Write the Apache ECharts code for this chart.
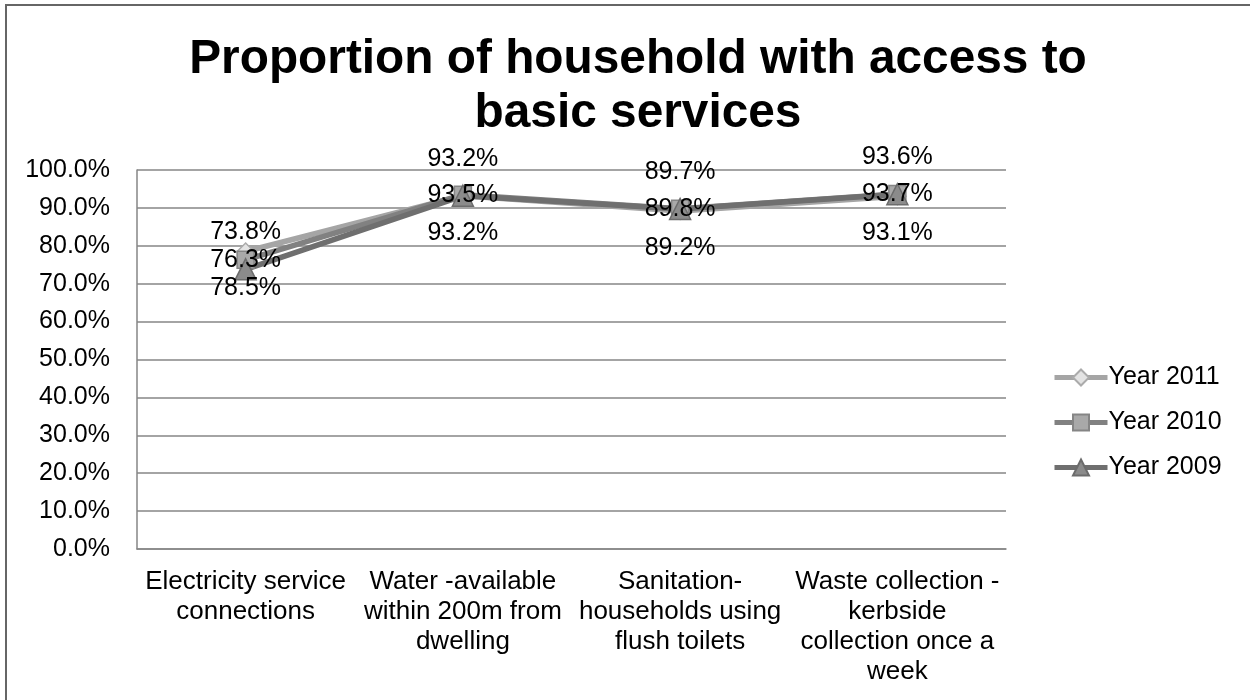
<!DOCTYPE html>
<html>
<head>
<meta charset="utf-8">
<script src="https://cdn.jsdelivr.net/npm/echarts@6/dist/echarts.min.js"></script>
<style>
  html, body { margin: 0; padding: 0; background: #fff; }
  #chart { width: 1250px; height: 700px; }
</style>
</head>
<body>
<div id="chart"></div>
<script>
// Household access to basic services, percent of households
const categories = [
  'Electricity service\nconnections',
  'Water -available\nwithin 200m from\ndwelling',
  'Sanitation-\nhouseholds using\nflush toilets',
  'Waste collection -\nkerbside\ncollection once a\nweek'
];
const year2011 = [78.5, 93.2, 89.2, 93.1];
const year2010 = [76.3, 93.5, 89.8, 93.7];
const year2009 = [73.8, 93.2, 89.7, 93.6];
const seriesNames = ['Year 2011', 'Year 2010', 'Year 2009'];

const FONT = 'Liberation Sans, Arial, sans-serif';
const pct = v => Number(v).toFixed(1) + '%';

function lineSeries(name, data, line, fill, border, symbol, size, labelOffset) {
  return {
    name: name,
    type: 'line',
    data: data,
    symbol: symbol,
    symbolSize: size,
    lineStyle: { color: line, width: 5.5 },
    itemStyle: { color: fill, borderColor: border, borderWidth: 1.5 },
    label: {
      show: true,
      position: 'inside',
      offset: [0, labelOffset],
      formatter: p => pct(p.value),
      color: '#000',
      fontFamily: FONT,
      fontSize: 25
    },
    emphasis: { disabled: true },
    animation: false
  };
}

const chart = echarts.init(document.getElementById('chart'), null, { renderer: 'canvas' });
chart.setOption({
  backgroundColor: '#fff',
  title: {
    text: 'Proportion of household with access to\nbasic services',
    left: 633,
    textAlign: 'center',
    top: 28,
    textStyle: { fontFamily: FONT, fontSize: 47.8, fontWeight: 'bold', color: '#000', lineHeight: 54 }
  },
  legend: {
    orient: 'vertical',
    left: 1047,
    top: 360,
    itemWidth: 53,
    itemHeight: 20,
    itemGap: 20,
    lineStyle: { width: 5 },
    textStyle: { fontFamily: FONT, fontSize: 25, color: '#000', padding: [0, 0, 0, -4] },
    data: seriesNames
  },
  grid: { left: 137, right: 244, top: 170, bottom: 151, containLabel: false },
  xAxis: {
    type: 'category',
    data: categories,
    boundaryGap: true,
    axisLine: { show: true, lineStyle: { color: '#868686', width: 1.5 } },
    axisTick: { show: false },
    axisLabel: {
      interval: 0,
      margin: 18,
      lineHeight: 30,
      fontFamily: FONT,
      fontSize: 26,
      color: '#000'
    }
  },
  yAxis: {
    type: 'value',
    min: 0,
    max: 100,
    interval: 10,
    axisLine: { show: true, lineStyle: { color: '#868686', width: 1.5 } },
    axisTick: { show: false },
    splitLine: { show: true, lineStyle: { color: '#868686', width: 1.5 } },
    axisLabel: {
      margin: 27,
      formatter: v => pct(v),
      fontFamily: FONT,
      fontSize: 25,
      color: '#000'
    }
  },
  graphic: [{
    type: 'rect',
    shape: { x: 6, y: 5, width: 1400, height: 900 },
    style: { fill: 'none', stroke: '#666', lineWidth: 2 },
    silent: true,
    z: 100
  }],
  series: [
    lineSeries('Year 2011', year2011, '#a5a5a5', '#e3e3e3', '#ababab', 'diamond', 17, 37),
    lineSeries('Year 2010', year2010, '#818181', '#a9a9a9', '#858585', 'rect', 17, 0),
    lineSeries('Year 2009', year2009, '#6f6f6f', '#8b8b8b', '#6c6c6c', 'triangle', 21, -37)
  ]
});
</script>
</body>
</html>
